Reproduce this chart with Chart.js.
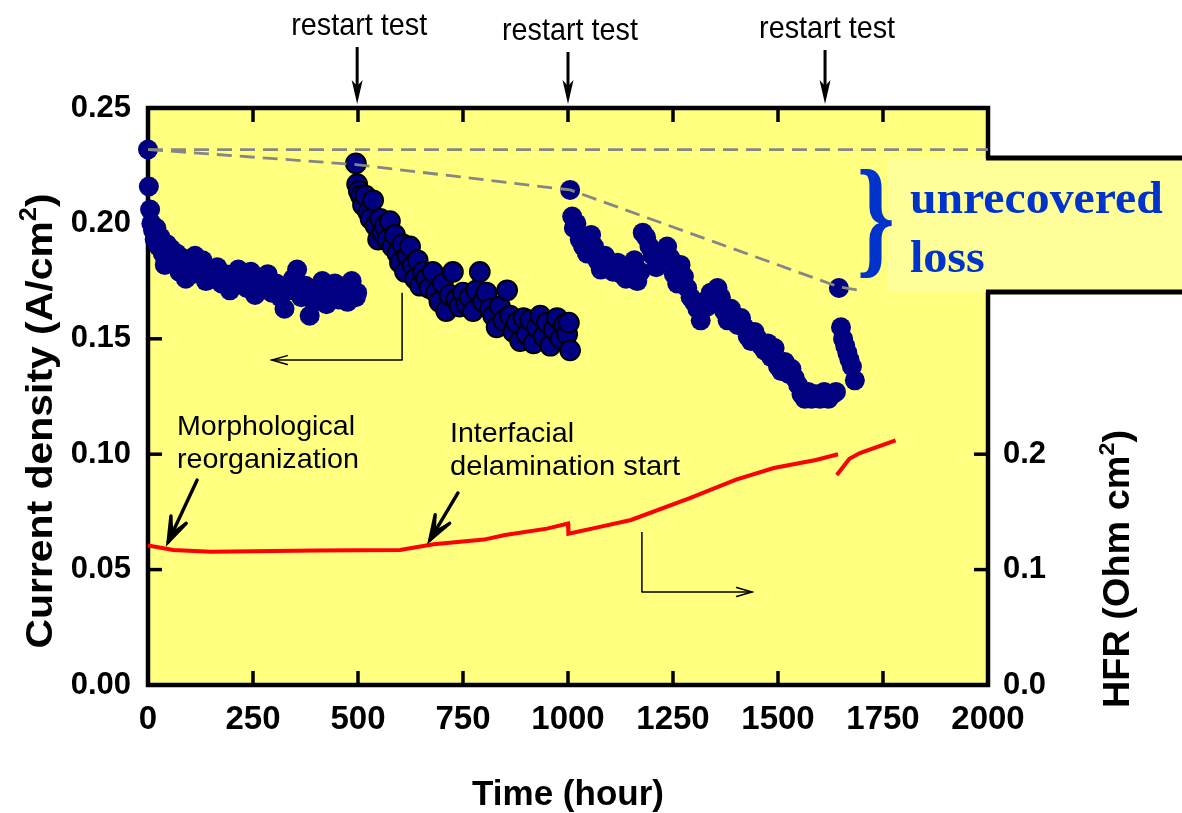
<!DOCTYPE html>
<html><head><meta charset="utf-8">
<script src="https://cdn.jsdelivr.net/npm/chart.js@4.4.1/dist/chart.umd.min.js"></script>
<style>html,body{margin:0;padding:0;background:#fff;}#wrap{width:1182px;height:813px;position:relative;}</style>
</head><body><div id="wrap"><canvas id="c"></canvas></div>
<script>
// ---- data ----
const run1Hours = [0,2,5,8,12,16,20,25,30,35,40,45,50,55,60,68,75,82,90,98,105,112,120,130,138,146,155,165,175,185,195,205,215,225,235,245,255,265,275,285,295,305,315,325,335,345,355,365,375,385,395,405,415,425,435,445,455,465,475,485,495,498];
const run1Current = [0.232,0.216,0.206,0.200,0.197,0.193,0.198,0.190,0.194,0.187,0.182,0.191,0.185,0.189,0.183,0.187,0.179,0.185,0.176,0.182,0.178,0.186,0.180,0.184,0.175,0.179,0.176,0.181,0.174,0.178,0.171,0.177,0.180,0.175,0.172,0.179,0.169,0.175,0.172,0.178,0.170,0.174,0.168,0.163,0.171,0.176,0.180,0.168,0.173,0.160,0.166,0.171,0.175,0.165,0.170,0.174,0.167,0.172,0.166,0.175,0.168,0.170];

const run2Hours = [495,498,502,507,512,518,524,530,536,542,548,553,558,564,570,576,582,588,594,600,606,612,618,624,630,636,642,648,655,662,670,678,686,694,702,710,718,726,734,742,750,758,766,774,782,790,798,806,814,822,830,838,846,855,862,870,878,886,894,902,910,918,926,934,942,950,958,966,974,982,990,998,1002,1005];
const run2Current = [0.226,0.217,0.214,0.212,0.208,0.212,0.205,0.202,0.210,0.199,0.193,0.202,0.196,0.199,0.193,0.201,0.190,0.195,0.187,0.183,0.191,0.179,0.186,0.190,0.182,0.176,0.184,0.173,0.179,0.176,0.172,0.179,0.170,0.166,0.174,0.162,0.169,0.179,0.167,0.164,0.170,0.165,0.168,0.162,0.171,0.179,0.166,0.170,0.163,0.160,0.155,0.164,0.158,0.171,0.160,0.153,0.157,0.149,0.159,0.152,0.158,0.148,0.155,0.160,0.151,0.157,0.147,0.154,0.159,0.150,0.156,0.152,0.157,0.145];

const run3Hours = [1005,1010,1014,1020,1028,1036,1045,1055,1062,1070,1078,1088,1098,1108,1118,1128,1138,1148,1158,1165,1172,1178,1186,1194,1202,1210,1218,1226,1236,1244,1252,1260,1268,1276,1284,1292,1300,1308,1316,1324,1332,1340,1348,1356,1364,1372,1380,1388,1396,1404,1412,1420,1428,1436,1444,1452,1460,1468,1476,1484,1492,1500,1508,1516,1524,1532,1540,1548,1556,1564,1572,1580,1590,1600,1610,1620,1630,1638,1645,1650,1655,1660,1665,1670,1676,1683];
const run3Current = [0.2145,0.203,0.198,0.200,0.193,0.190,0.187,0.195,0.190,0.184,0.180,0.186,0.182,0.179,0.183,0.178,0.176,0.180,0.184,0.175,0.179,0.196,0.194,0.190,0.186,0.181,0.184,0.188,0.190,0.185,0.178,0.174,0.182,0.177,0.172,0.168,0.166,0.163,0.158,0.166,0.164,0.170,0.166,0.172,0.168,0.162,0.158,0.163,0.160,0.156,0.159,0.155,0.151,0.149,0.153,0.150,0.147,0.145,0.148,0.142,0.146,0.138,0.136,0.140,0.135,0.137,0.133,0.130,0.126,0.124,0.127,0.124,0.126,0.124,0.127,0.124,0.126,0.127,0.172,0.155,0.150,0.147,0.144,0.141,0.138,0.132];

const hfrHoursA = [0,60,150,250,400,600,680,800,850,950,1000,1001,1076,1150,1290,1400,1490,1590,1643];
const hfrValuesA = [0.121,0.117,0.1155,0.1158,0.1165,0.117,0.122,0.126,0.130,0.1355,0.140,0.131,0.137,0.143,0.162,0.178,0.188,0.195,0.200];
const hfrHoursB = [1640,1670,1695,1780];
const hfrValuesB = [0.182,0.196,0.201,0.212];

const initialHours = [0,2000];
const initialCurrent = [0.232,0.232];
const lossHours = [0,495,1005,1645,1695];
const lossCurrent = [0.232,0.2255,0.2145,0.1725,0.171];

const restartHours = [498,1000,1612];
const restartLabel = 'restart test';

// ---- helpers ----
const FONT = "'Liberation Sans', Arial, Helvetica, sans-serif";
const NARROW = "'Liberation Sans Narrow', 'Arial Narrow', 'Liberation Sans', Arial, sans-serif";
const SERIF = "'Liberation Serif', 'Times New Roman', Times, serif";
const pts = (xs, ys) => xs.map((x, i) => ({x, y: ys[i]}));

function fitText(ctx, text, x, y, font, color, targetW, align) {
  ctx.save();
  ctx.font = font; ctx.fillStyle = color; ctx.textBaseline = 'alphabetic';
  const w = ctx.measureText(text).width;
  const sx = targetW ? targetW / w : 1;
  ctx.translate(x, y); ctx.scale(sx, 1);
  ctx.textAlign = align || 'left';
  ctx.fillText(text, 0, 0);
  ctx.restore();
}
function richText(ctx, parts, cx, cy, size, family, targetW, rot) {
  ctx.save();
  ctx.translate(cx, cy); ctx.rotate(rot);
  ctx.fillStyle = '#000'; ctx.textBaseline = 'alphabetic'; ctx.textAlign = 'left';
  const fonts = parts.map(p => `bold ${p.sup ? Math.round(size * 0.62) : size}px ${family}`);
  const widths = parts.map((p, i) => { ctx.font = fonts[i]; return ctx.measureText(p.t).width; });
  const total = widths.reduce((a, b) => a + b, 0);
  ctx.scale(targetW / total, 1);
  let x = -total / 2;
  parts.forEach((p, i) => { ctx.font = fonts[i]; ctx.fillText(p.t, x, p.sup ? -size * 0.42 : 0); x += widths[i]; });
  ctx.restore();
}
function openArrow(ctx, x0, y0, x1, y1, head, lw, ang) {
  const a = Math.atan2(y1 - y0, x1 - x0);
  ctx.save(); ctx.strokeStyle = '#000'; ctx.lineWidth = lw; ctx.lineCap = 'round'; ctx.lineJoin = 'miter';
  ctx.beginPath(); ctx.moveTo(x0, y0); ctx.lineTo(x1, y1); ctx.stroke();
  ctx.beginPath();
  ctx.moveTo(x1 - head * Math.cos(a - ang), y1 - head * Math.sin(a - ang));
  ctx.lineTo(x1, y1);
  ctx.lineTo(x1 - head * Math.cos(a + ang), y1 - head * Math.sin(a + ang));
  ctx.stroke();
  ctx.restore();
}
function boldArrow(ctx, x0, y0, x1, y1) {
  openArrow(ctx, x0, y0, x1, y1, 26, 3.4, 0.33);
  const a = Math.atan2(y1 - y0, x1 - x0);
  const bx = x1 - 9 * Math.cos(a), by = y1 - 9 * Math.sin(a);
  ctx.save(); ctx.strokeStyle = '#000'; ctx.lineWidth = 3; ctx.lineCap = 'round';
  ctx.beginPath();
  ctx.moveTo(bx - 16 * Math.cos(a - 0.5), by - 16 * Math.sin(a - 0.5));
  ctx.lineTo(bx, by);
  ctx.lineTo(bx - 16 * Math.cos(a + 0.5), by - 16 * Math.sin(a + 0.5));
  ctx.stroke(); ctx.restore();
}
function downArrow(ctx, x, y0, y1) {
  ctx.save(); ctx.strokeStyle = '#000'; ctx.fillStyle = '#000'; ctx.lineWidth = 3;
  ctx.beginPath(); ctx.moveTo(x, y0); ctx.lineTo(x, y1 - 12); ctx.stroke();
  ctx.beginPath(); ctx.moveTo(x, y1); ctx.lineTo(x - 5.5, y1 - 24); ctx.lineTo(x, y1 - 18); ctx.lineTo(x + 5.5, y1 - 24); ctx.closePath(); ctx.fill();
  ctx.restore();
}

const decor = {
  id: 'decor',
  beforeDatasetsDraw(chart) {
    const {ctx, chartArea: a, scales} = chart;
    ctx.save();
    ctx.fillStyle = '#FFFF80';
    ctx.fillRect(a.left, a.top, a.right - a.left, a.bottom - a.top);
    ctx.strokeStyle = '#000'; ctx.lineWidth = 4.5;
    ctx.strokeRect(a.left, a.top, a.right - a.left, a.bottom - a.top);
    ctx.lineWidth = 3.5;
    const TL = 14;
    scales.x.ticks.forEach(t => {
      if (t.value <= 0 || t.value >= 2000) return;
      const px = scales.x.getPixelForValue(t.value);
      ctx.beginPath(); ctx.moveTo(px, a.bottom); ctx.lineTo(px, a.bottom - TL); ctx.stroke();
      ctx.beginPath(); ctx.moveTo(px, a.top); ctx.lineTo(px, a.top + TL); ctx.stroke();
    });
    scales.y.ticks.forEach(t => {
      if (t.value <= 0 || t.value >= 0.2499) return;
      const py = scales.y.getPixelForValue(t.value);
      ctx.beginPath(); ctx.moveTo(a.left, py); ctx.lineTo(a.left + TL, py); ctx.stroke();
    });
    scales.y1.ticks.forEach(t => {
      if (t.value <= 0) return;
      const py = scales.y1.getPixelForValue(t.value);
      ctx.beginPath(); ctx.moveTo(a.right, py); ctx.lineTo(a.right - TL, py); ctx.stroke();
    });
    ctx.restore();
  },
  afterDraw(chart) {
    const {ctx, chartArea: a, scales, width} = chart;
    const X = v => scales.x.getPixelForValue(v);
    const Y = v => scales.y.getPixelForValue(v);
    // axis titles (read bottom to top)
    richText(ctx, [{t: 'Current density (A/cm'}, {t: '2', sup: true}, {t: ')'}], 52, 421, 37, FONT, 455, -Math.PI / 2);
    richText(ctx, [{t: 'HFR (Ohm cm'}, {t: '2', sup: true}, {t: ')'}], 1129, 569, 36, FONT, 278, -Math.PI / 2);
    // restart test markers
    const offs = [[-73, -61], [-68, -56], [-70, -58]];
    restartHours.forEach((h, i) => {
      const px = X(h);
      fitText(ctx, restartLabel, px + 2, a.top + offs[i][0], `32px ${NARROW}`, '#000', 136, 'center');
      downArrow(ctx, px, a.top + offs[i][1], a.top - 4);
    });
    // annotations
    fitText(ctx, 'Morphological', X(69), Y(0.1083), `28px ${FONT}`, '#000', 178);
    fitText(ctx, 'reorganization', X(69), Y(0.0940), `28px ${FONT}`, '#000', 182);
    boldArrow(ctx, X(117), Y(0.0888), X(48), Y(0.0620));
    fitText(ctx, 'Interfacial', X(719), Y(0.1053), `28px ${FONT}`, '#000', 124);
    fitText(ctx, 'delamination start', X(719), Y(0.0910), `28px ${FONT}`, '#000', 230);
    boldArrow(ctx, X(738), Y(0.0832), X(671), Y(0.0628));
    // thin axis-pointing arrows
    ctx.save(); ctx.strokeStyle = '#000'; ctx.lineWidth = 1.5;
    ctx.beginPath(); ctx.moveTo(X(605), Y(0.170)); ctx.lineTo(X(605), Y(0.1408)); ctx.stroke();
    ctx.beginPath(); ctx.moveTo(X(1176), Y(0.0663)); ctx.lineTo(X(1176), Y(0.0403)); ctx.stroke();
    ctx.restore();
    openArrow(ctx, X(605), Y(0.1408), X(295), Y(0.1408), 16, 1.5, 0.28);
    openArrow(ctx, X(1176), Y(0.0403), X(1438), Y(0.0403), 16, 1.5, 0.28);
    // unrecovered loss box
    const bx = X(1762), by0 = Y(0.2283), by1 = Y(0.1703);
    ctx.save();
    ctx.fillStyle = '#FFFF99';
    ctx.fillRect(bx, by0, width - bx, by1 - by0);
    ctx.strokeStyle = '#000'; ctx.lineWidth = 5;
    ctx.beginPath(); ctx.moveTo(a.right - 2, by0); ctx.lineTo(width, by0); ctx.stroke();
    ctx.beginPath(); ctx.moveTo(a.right - 2, by1); ctx.lineTo(width, by1); ctx.stroke();
    ctx.restore();
    // brace
    ctx.save();
    ctx.font = `bold 132px ${SERIF}`; ctx.fillStyle = '#0033CC'; ctx.textAlign = 'center'; ctx.textBaseline = 'middle';
    const bw = ctx.measureText('}').width;
    ctx.translate(X(1733), Y(0.2023) + 8); ctx.scale(38 / bw, 1);
    ctx.fillText('}', 0, 0);
    ctx.restore();
    fitText(ctx, 'unrecovered', X(1814), Y(0.2045), `bold 47px ${SERIF}`, '#0033CC', 253);
    fitText(ctx, 'loss', X(1814), Y(0.1790), `bold 47px ${SERIF}`, '#0033CC', 75);
  }
};

const navy = '#000080';
new Chart(document.getElementById('c'), {
  type: 'scatter',
  data: {
    datasets: [
      {data: pts(initialHours, initialCurrent), showLine: true, borderColor: '#868686', borderWidth: 2.8, borderDash: [15, 8], pointRadius: 0, yAxisID: 'y'},
      {data: pts(lossHours, lossCurrent), showLine: true, borderColor: '#868686', borderWidth: 2.8, borderDash: [15, 8], pointRadius: 0, yAxisID: 'y', tension: 0},
      {data: pts(hfrHoursA, hfrValuesA), showLine: true, borderColor: '#FF0000', borderWidth: 4, pointRadius: 0, yAxisID: 'y1'},
      {data: pts(hfrHoursB, hfrValuesB), showLine: true, borderColor: '#FF0000', borderWidth: 4, pointRadius: 0, yAxisID: 'y1'},
      {data: pts(run2Hours, run2Current), pointRadius: 10, pointBackgroundColor: navy, pointBorderColor: '#000', pointBorderWidth: 1.8, yAxisID: 'y', clip: false},
      {data: pts(run3Hours, run3Current), pointRadius: 10, pointBackgroundColor: navy, pointBorderColor: navy, pointBorderWidth: 0, yAxisID: 'y', clip: false},
      {data: pts(run1Hours, run1Current), pointRadius: 10, pointBackgroundColor: navy, pointBorderColor: navy, pointBorderWidth: 0, yAxisID: 'y', clip: false}
    ]
  },
  options: {
    responsive: true, maintainAspectRatio: false, animation: false,
    layout: {padding: {top: 108, left: 0, right: 0, bottom: 0}},
    plugins: {legend: {display: false}, tooltip: {enabled: false}},
    scales: {
      x: {
        type: 'linear', position: 'bottom', min: 0, max: 2000,
        ticks: {stepSize: 250, color: '#000', font: {family: FONT, size: 33, weight: 'bold'}, padding: 15, maxRotation: 0, autoSkip: false, callback: v => String(v)},
        grid: {display: false, drawTicks: false}, border: {display: false},
        title: {display: true, text: 'Time (hour)', color: '#000', font: {family: FONT, size: 35, weight: 'bold', lineHeight: 1}, padding: {top: 0, bottom: 0}},
        afterFit(s) { s.height = 128; }
      },
      y: {
        type: 'linear', position: 'left', min: 0, max: 0.25,
        ticks: {stepSize: 0.05, color: '#000', font: {family: FONT, size: 31, weight: 'bold'}, padding: 17, callback: v => v.toFixed(2)},
        grid: {display: false, drawTicks: false}, border: {display: false},
        afterFit(s) { s.width = 148; }
      },
      y1: {
        type: 'linear', position: 'right', min: 0, max: 0.5,
        ticks: {stepSize: 0.1, color: '#000', font: {family: FONT, size: 31, weight: 'bold'}, padding: 15, callback: v => v.toFixed(1)},
        grid: {display: false, drawTicks: false}, border: {display: false},
        afterBuildTicks(s) { s.ticks = s.ticks.filter(t => t.value <= 0.2001); },
        afterFit(s) { s.width = 194; }
      }
    }
  },
  plugins: [decor]
});
</script>
</body></html>
